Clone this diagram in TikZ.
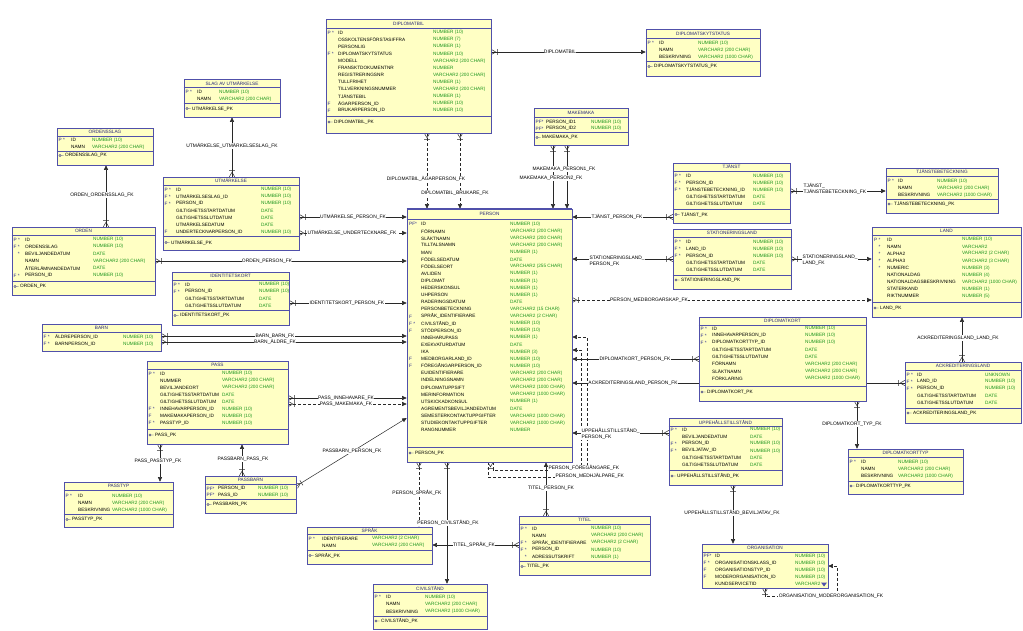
\documentclass[tikz,border=0pt]{standalone}
\usepackage{fontspec}
\setmainfont{Liberation Sans}
\usetikzlibrary{arrows.meta}
\definecolor{tfill}{RGB}{255,255,196}
\definecolor{tborder}{RGB}{80,80,170}
\definecolor{ttitle}{RGB}{40,40,120}
\definecolor{ttype}{RGB}{30,150,30}
\definecolor{tkey}{RGB}{40,40,140}
\definecolor{cline}{RGB}{40,40,40}
\pgfdeclarelayer{bg}
\pgfsetlayers{bg,main}
\tikzset{
 tbox/.style={draw=tborder, fill=tfill, line width=0.6pt, inner sep=0pt, rectangle},
 txt/.style={inner sep=0pt, anchor=west, font=\fontsize{4.7}{5}\selectfont},
 ttl/.style={txt, anchor=center, text=ttitle},
 kcol/.style={txt, text=tkey},
 ncol/.style={txt, text=black},
 tcol/.style={txt, text=ttype},
 sepl/.style={draw=tborder, line width=0.6pt},
 conn/.style={draw=cline, line width=0.5pt},
 opt/.style={conn, dash pattern=on 3pt off 2pt},
 fkarrow/.style={-{Triangle[length=4.5pt,width=4pt]}},
 lbl/.style={fill=white, inner sep=0.4pt, font=\fontsize{4.9}{6}\selectfont, text=black, align=left},
}
\catcode`\_=12
\newcommand\tab[7]{%
 \node[tbox, minimum width={(#4-#2)*1pt}, minimum height={(#5-#3)*1pt}] (#1) at ({(#2+#4)/2},{(#3+#5)/2}) {};
 \node[ttl] (#1-title) at ({(#2+#4)/2},{(#3+#7)/2}) {#6};
 \draw[sepl] (#1.west |- 0,#7) -- (#1.east |- 0,#7);}
\newcommand\rws[7]{%
 \foreach \k/\n/\t [count=\i] in {#7} {
   \node[kcol] (#1-k\i) at (#2,{#5+(\i-1)*#6}) {\k};
   \node[ncol] (#1-n\i) at (#3,{#5+(\i-1)*#6}) {\n};
   \node[tcol] (#1-y\i) at (#4,{#5+(\i-1)*#6}) {\t};
 }}
\newcommand\pkr[5]{%
 \draw[sepl] (#1.west |- 0,#3) -- (#1.east |- 0,#3);
 \draw[draw=ttitle, line width=0.4pt] (#2+3,#4) circle (1.1pt) (#2+4.1,#4) -- (#2+6.5,#4);
 \node[ncol] (#1-pk) at (#2+8,#4) {#5};}
\newcommand\crow[2]{\draw[conn, solid, shift={#1}, rotate=#2] (0,-2.6) -- (4.5,0) -- (0,2.6) (6,-2.8) -- (6,2.8);}
\begin{document}
\begin{tikzpicture}[x=1pt,y=-1pt]
\useasboundingbox (0,0) rectangle (1023,630);
\begin{pgfonlayer}{bg}
\fill[white] (0,0) rectangle (1023,630);
\end{pgfonlayer}

% ---------------- tables ----------------
\tab{slag}{184}{79}{280}{117}{SLAG AV UTMÄRKELSE}{87.5}
\rws{slag}{185.5}{197}{219}{92}{7}{P */ID/NUMBER (10), {}/NAMN/VARCHAR2 (200 CHAR)}
\pkr{slag}{184}{103.5}{108.5}{UTMÄRKELSE_PK}

\tab{ordslag}{57}{128}{153}{165}{ORDENSSLAG}{136}
\rws{ordslag}{58.5}{71}{92}{140}{7}{P */ID/NUMBER (10), {}/NAMN/VARCHAR2 (200 CHAR)}
\pkr{ordslag}{57}{151}{155.5}{ORDENSSLAG_PK}

\tab{utm}{163}{177}{299}{250}{UTMÄRKELSE}{185}
\rws{utm}{164.5}{176}{261}{189.5}{7.1}{P */ID/NUMBER (10), F */UTMÄRKELSESLAG_ID/NUMBER (10), F */PERSON_ID/NUMBER (10), {}/GILTIGHETSSTARTDATUM/DATE, {}/GILTIGHETSSLUTDATUM/DATE, {}/UTMÄRKELSEDATUM/DATE, F/UNDERTECKNARPERSON_ID/NUMBER (10)}
\pkr{utm}{163}{236.5}{242.5}{UTMÄRKELSE_PK}

\tab{dbil}{326}{19}{491}{133}{DIPLOMATBIL}{28}
\rws{dbil}{327.5}{338}{433}{32.5}{7.1}{P */ID/NUMBER (10), {}/OSSKOLTENSFÖRSTASIFFRA/NUMBER (7), {}/PERSONLIG/NUMBER (1), F */DIPLOMATSKYTSTATUS/NUMBER (10), {}/MODELL/VARCHAR2 (200 CHAR), {}/FRANSKTDOKUMENTNR/NUMBER, {}/REGISTRERINGSNR/VARCHAR2 (200 CHAR), {}/TULLFRIHET/NUMBER (1), {}/TILLVERKNINGSNUMMER/VARCHAR2 (200 CHAR), {}/TJÄNSTEBIL/NUMBER (1), F/ÄGARPERSON_ID/NUMBER (10), F/BRUKARPERSON_ID/NUMBER (10)}
\pkr{dbil}{326}{116.5}{122}{DIPLOMATBIL_PK}

\tab{dstat}{646}{29}{760}{76}{DIPLOMATSKYTSTATUS}{38}
\rws{dstat}{647.5}{659}{698}{43}{7}{P */ID/NUMBER (10), {}/NAMN/VARCHAR2 (200 CHAR), {}/BESKRIVNING/VARCHAR2 (1000 CHAR)}
\pkr{dstat}{646}{61.5}{66.5}{DIPLOMATSKYTSTATUS_PK}

\tab{make}{534}{108}{628}{145}{MAKEMAKA}{117}
\rws{make}{535.5}{546}{591}{122}{6.7}{PF*/PERSON_ID1/NUMBER (10), PF*/PERSON_ID2/NUMBER (10)}
\pkr{make}{534}{132.5}{137.5}{MAKEMAKA_PK}

\tab{person}{407}{209}{572}{462}{PERSON}{219}
\rws{person}{409}{421}{510}{224}{7.107}{PF*/ID/NUMBER (10), {}/FÖRNAMN/VARCHAR2 (200 CHAR), {}/SLÄKTNAMN/VARCHAR2 (200 CHAR), {}/TILLTALSNAMN/VARCHAR2 (200 CHAR), {}/MAN/NUMBER (1), {}/FÖDELSEDATUM/DATE, {}/FÖDELSEORT/VARCHAR2 (255 CHAR), {}/AVLIDEN/NUMBER (1), {}/DIPLOMAT/NUMBER (1), {}/HEDERSKONSUL/NUMBER (1), {}/UHPERSON/NUMBER (1), {}/RADERINGSDATUM/DATE, {}/PERSONBETECKNING/VARCHAR2 (15 CHAR), F/SPRÅK_IDENTIFIERARE/VARCHAR2 (2 CHAR), F */CIVILSTÅND_ID/NUMBER (10), F/STÖDPERSON_ID/NUMBER (10), {}/INNEHARUPASS/NUMBER (1), {}/EXEKVATURDATUM/DATE, {}/IKA/NUMBER (3), F/MEDBORGARLAND_ID/NUMBER (10), F/FÖREGÅNGARPERSON_ID/NUMBER (10), {}/EUIDENTIFIERARE/VARCHAR2 (200 CHAR), {}/INDELNINGSNAMN/VARCHAR2 (200 CHAR), {}/DIPLOMATUPPSIFT/VARCHAR2 (1000 CHAR), {}/MERINFORMATION/VARCHAR2 (1000 CHAR), {}/UTSKICKADKONSUL/NUMBER (1), {}/AGREMENTSBEVILJANDEDATUM/DATE, {}/SEMESTERKONTAKTUPPGIFTER/VARCHAR2 (1000 CHAR), {}/STUDIEKONTAKTUPPGIFTER/VARCHAR2 (1000 CHAR), {}/RANGNUMMER/NUMBER}
\pkr{person}{407}{447}{453}{PERSON_PK}
\draw[tborder, line width=1.4pt] (person.north west) -- (person.north east);

\tab{orden}{12}{227}{155}{295}{ORDEN}{235}
\rws{orden}{13.5}{25}{93}{239.5}{7.2}{P */ID/NUMBER (10), F */ORDENSSLAG/NUMBER (10), {\phantom{F} *}/BEVILJANDEDATUM/DATE, {}/NAMN/VARCHAR2 (200 CHAR), {}/ÅTERLÄMNANDEDATUM/DATE, F */PERSON_ID/NUMBER (10)}
\pkr{orden}{12}{281}{286.5}{ORDEN_PK}

\tab{idk}{172}{272}{289}{325}{IDENTITETSKORT}{280}
\rws{idk}{173.5}{185}{259}{284.5}{7}{P */ID/NUMBER (10), F */PERSON_ID/NUMBER (10), {}/GILTIGHETSSTARTDATUM/DATE, {}/GILTIGHETSSLUTDATUM/DATE}
\pkr{idk}{172}{310}{315.5}{IDENTITETSKORT_PK}

\tab{barn}{42}{324}{161}{351}{BARN}{332}
\rws{barn}{43.5}{55}{123}{337}{7}{F */ÄLDREPERSON_ID/NUMBER (10), F */BARNPERSON_ID/NUMBER (10)}

\tab{pass}{147}{361}{288}{444}{PASS}{369}
\rws{pass}{148.5}{160}{222}{373.5}{7.1}{P */ID/NUMBER (10), {}/NUMMER/VARCHAR2 (200 CHAR), {}/BEVILJANDEORT/VARCHAR2 (200 CHAR), {}/GILTIGHETSSTARTDATUM/DATE, {}/GILTIGHETSSLUTDATUM/DATE, F */INNEHAVARPERSON_ID/NUMBER (10), F/MAKEMAKAPERSON_ID/NUMBER (10), F */PASSTYP_ID/NUMBER (10)}
\pkr{pass}{147}{429.5}{435}{PASS_PK}

\tab{passtyp}{64}{482}{173}{527}{PASSTYP}{490}
\rws{passtyp}{65.5}{78}{112}{496}{7}{P */ID/NUMBER (10), {}/NAMN/VARCHAR2 (200 CHAR), {}/BESKRIVNING/VARCHAR2 (1000 CHAR)}
\pkr{passtyp}{64}{514}{519.5}{PASSTYP_PK}

\tab{passbarn}{205}{476}{296}{513}{PASSBARN}{484}
\rws{passbarn}{206.5}{218}{258}{488.5}{6.8}{PF*/PERSON_ID/NUMBER (10), PF*/PASS_ID/NUMBER (10)}
\pkr{passbarn}{205}{499.5}{504.5}{PASSBARN_PK}

\tab{sprak}{307}{527}{432}{564}{SPRÅK}{534}
\rws{sprak}{308.5}{322}{372}{538.5}{7.2}{P */IDENTIFIERARE/VARCHAR2 (2 CHAR), {}/NAMN/VARCHAR2 (200 CHAR)}
\pkr{sprak}{307}{550.5}{555.5}{SPRÅK_PK}

\tab{civ}{373}{584}{487}{629}{CIVILSTÅND}{592}
\rws{civ}{374.5}{386}{425}{597}{7.2}{P */ID/NUMBER (10), {}/NAMN/VARCHAR2 (200 CHAR), {}/BESKRIVNING/VARCHAR2 (1000 CHAR)}
\pkr{civ}{373}{616}{621}{CIVILSTÅND_PK}

\tab{titel}{519}{516}{650}{575}{TITEL}{524}
\rws{titel}{520.5}{532}{591}{528.5}{7.1}{P */ID/NUMBER (10), {}/NAMN/VARCHAR2 (200 CHAR), F */SPRÅK_IDENTIFIERARE/VARCHAR2 (2 CHAR), F */PERSON_ID/NUMBER (10), {\phantom{F} *}/ADRESSUTSKRIFT/NUMBER (1)}
\pkr{titel}{519}{561.5}{566.5}{TITEL_PK}

\tab{tjanst}{673}{163}{790}{223}{TJÄNST}{171}
\rws{tjanst}{674.5}{686}{753}{176}{7}{P */ID/NUMBER (10), F */PERSON_ID/NUMBER (10), F */TJÄNSTEBETECKNING_ID/NUMBER (10), {}/GILTIGHETSSTARTDATUM/DATE, {}/GILTIGHETSSLUTDATUM/DATE}
\pkr{tjanst}{673}{209.5}{214.5}{TJÄNST_PK}

\tab{tbet}{886}{168}{998}{213}{TJÄNSTEBETECKNING}{176}
\rws{tbet}{887.5}{898}{937}{181}{7}{P */ID/NUMBER (10), {}/NAMN/VARCHAR2 (200 CHAR), {}/BESKRIVNING/VARCHAR2 (1000 CHAR)}
\pkr{tbet}{886}{199}{204}{TJÄNSTEBETECKNING_PK}

\tab{stat}{673}{229}{791}{289}{STATIONERINGSLAND}{237}
\rws{stat}{674.5}{686}{753}{242}{7}{P */ID/NUMBER (10), F */LAND_ID/NUMBER (10), F */PERSON_ID/NUMBER (10), {}/GILTIGHETSSTARTDATUM/DATE, {}/GILTIGHETSSLUTDATUM/DATE}
\pkr{stat}{673}{275}{280}{STATIONERINGSLAND_PK}

\tab{land}{872}{227}{1021}{317}{LAND}{235}
\rws{land}{874}{887}{962}{239.5}{7.1}{P */ID/NUMBER (10), {\phantom{P} *}/NAMN/VARCHAR2, {\phantom{P} *}/ALPHA2/VARCHAR2 (2 CHAR), {\phantom{P} *}/ALPHA3/VARCHAR2 (3 CHAR), {\phantom{P} *}/NUMERIC/NUMBER (3), {}/NATIONALDAG/NUMBER (4), {}/NATIONALDAGSBESKRIVNING/VARCHAR2 (1000 CHAR), {}/STATERKAND/NUMBER (1), {}/RIKTNUMMER/NUMBER (5)}
\pkr{land}{872}{302}{308}{LAND_PK}

\tab{dkort}{699}{317}{866}{401}{DIPLOMATKORT}{325}
\rws{dkort}{700.5}{712}{805}{328.5}{7.1}{P */ID/NUMBER (10), F */INNEHAVARPERSON_ID/NUMBER (10), F */DIPLOMATKORTTYP_ID/NUMBER (10), {}/GILTIGHETSSTARTDATUM/DATE, {}/GILTIGHETSSLUTDATUM/DATE, {}/FÖRNAMN/VARCHAR2 (200 CHAR), {}/SLÄKTNAMN/VARCHAR2 (200 CHAR), {}/FÖRKLARING/VARCHAR2 (1000 CHAR)}
\pkr{dkort}{699}{386}{392}{DIPLOMATKORT_PK}

\tab{ackr}{905}{362}{1021}{423}{ACKREDITERINGSLAND}{370}
\rws{ackr}{906.5}{917}{985}{374.5}{7}{P */ID/UNKNOWN, F */LAND_ID/NUMBER (10), F */PERSON_ID/NUMBER (10), {}/GILTIGHETSSTARTDATUM/DATE, {}/GILTIGHETSSLUTDATUM/DATE}
\pkr{ackr}{905}{408}{413}{ACKREDITERINGSLAND_PK}

\tab{dktyp}{848}{449}{963}{494}{DIPLOMATKORTTYP}{457}
\rws{dktyp}{849.5}{861}{898}{462}{7}{P */ID/NUMBER (10), {}/NAMN/VARCHAR2 (200 CHAR), {}/BESKRIVNING/VARCHAR2 (1000 CHAR)}
\pkr{dktyp}{848}{481}{486}{DIPLOMATKORTTYP_PK}

\tab{upp}{669}{418}{782}{485}{UPPEHÅLLSTILLSTÅND}{426}
\rws{upp}{670.5}{682}{750}{429.5}{7.1}{P */ID/NUMBER (10), {}/BEVILJANDEDATUM/DATE, F */PERSON_ID/NUMBER (10), F */BEVILJATAV_ID/NUMBER (10), {}/GILTIGHETSSTARTDATUM/DATE, {}/GILTIGHETSSLUTDATUM/DATE}
\pkr{upp}{669}{470}{476}{UPPEHÅLLSTILLSTÅND_PK}

\tab{org}{702}{544}{828}{588}{ORGANISATION}{552}
\rws{org}{703.5}{715}{795}{556}{7}{PF*/ID/NUMBER (10), F */ORGANISATIONSKLASS_ID/NUMBER (10), F/ORGANISATIONSTYP_ID/NUMBER (10), F/MODERORGANISATION_ID/NUMBER (10), {}/KUNDSERVICETID/VARCHAR2}
\fill[tborder] (821,582.5) -- (827,582.5) -- (824,586.5) -- cycle;

% ---------------- connectors ----------------
\begin{pgfonlayer}{bg}
\draw[conn,fkarrow] (orden.north -| 106,0) -- (ordslag.south -| 106,0);
\crow{(orden.north -| 106,0)}{90}
\draw[conn,fkarrow] (utm.north -| 232,0) -- (slag.south -| 232,0);
\crow{(utm.north -| 232,0)}{90}
\draw[conn,fkarrow] (utm.east |- 0,217) -- (person.west |- 0,217);
\crow{(utm.east |- 0,217)}{0}
\draw[opt,fkarrow] (utm.east |- 0,233) -- (person.west |- 0,233);
\crow{(utm.east |- 0,233)}{0}
\draw[conn,fkarrow] (orden.east |- 0,261) -- (person.west |- 0,261);
\crow{(orden.east |- 0,261)}{0}
\draw[conn,fkarrow] (idk.east |- 0,303) -- (person.west |- 0,303);
\crow{(idk.east |- 0,303)}{0}
\draw[conn,fkarrow] (barn.east |- 0,336) -- (person.west |- 0,336);
\crow{(barn.east |- 0,336)}{0}
\draw[conn,fkarrow] (barn.east |- 0,342) -- (person.west |- 0,342);
\crow{(barn.east |- 0,342)}{0}
\draw[conn,fkarrow] (pass.east |- 0,398) -- (person.west |- 0,398);
\crow{(pass.east |- 0,398)}{0}
\draw[opt,fkarrow] (pass.east |- 0,404) -- (person.west |- 0,404);
\crow{(pass.east |- 0,404)}{0}
\draw[conn,fkarrow] (pass.south -| 160,0) -- (passtyp.north -| 160,0);
\crow{(pass.south -| 160,0)}{270}
\draw[conn,fkarrow] (passbarn.north -| 242,0) -- (pass.south -| 242,0);
\crow{(passbarn.north -| 242,0)}{90}
\draw[conn,fkarrow] (passbarn.east |- 0,486) -- (person.west |- 0,418);
\crow{(passbarn.east |- 0,486)}{31.5}
\draw[opt,fkarrow] (person.south -| 419,0) -- (sprak.north -| 419,0);
\crow{(person.south -| 419,0)}{270}
\draw[conn,fkarrow] (person.south -| 447,0) -- (civ.north -| 447,0);
\crow{(person.south -| 447,0)}{270}
\draw[conn,fkarrow] (titel.west |- 0,545) -- (sprak.east |- 0,545);
\crow{(titel.west |- 0,545)}{180}
\draw[conn,fkarrow] (titel.north -| 546,0) -- (person.south -| 546,0);
\crow{(titel.north -| 546,0)}{90}
\draw[opt,fkarrow] (person.south -| 493,0) -- (493,470) -- (581,470) -- (581,350) -- (person.east |- 0,350);
\draw[opt,fkarrow] (person.south -| 488,0) -- (488,477) -- (587,477) -- (587,337) -- (person.east |- 0,337);
\crow{(person.south -| 490.5,0)}{270}
\draw[conn,fkarrow] (tjanst.west |- 0,217) -- (person.east |- 0,217);
\crow{(tjanst.west |- 0,217)}{180}
\draw[conn,fkarrow] (tjanst.east |- 0,191) -- (tbet.west |- 0,191);
\crow{(tjanst.east |- 0,191)}{0}
\draw[conn,fkarrow] (stat.west |- 0,259) -- (person.east |- 0,259);
\crow{(stat.west |- 0,259)}{180}
\draw[conn,fkarrow] (stat.east |- 0,259) -- (land.west |- 0,259);
\crow{(stat.east |- 0,259)}{0}
\draw[opt,fkarrow] (person.east |- 0,300) -- (land.west |- 0,300);
\crow{(person.east |- 0,300)}{0}
\draw[conn,fkarrow] (dkort.west |- 0,359) -- (person.east |- 0,359);
\crow{(dkort.west |- 0,359)}{180}
\draw[conn,fkarrow] (ackr.west |- 0,383) -- (person.east |- 0,383);
\crow{(ackr.west |- 0,383)}{180}
\draw[conn,fkarrow] (dkort.south -| 857,0) -- (dktyp.north -| 857,0);
\crow{(dkort.south -| 857,0)}{270}
\draw[conn,fkarrow] (ackr.north -| 962,0) -- (land.south -| 962,0);
\crow{(ackr.north -| 962,0)}{90}
\draw[conn,fkarrow] (upp.west |- 0,433) -- (person.east |- 0,433);
\crow{(upp.west |- 0,433)}{180}
\draw[conn,fkarrow] (upp.south -| 733,0) -- (org.north -| 733,0);
\crow{(upp.south -| 733,0)}{270}
\draw[opt,fkarrow] (org.south -| 765,0) -- (765,596) -- (837,596) -- (837,566) -- (org.east |- 0,566);
\crow{(org.south -| 765,0)}{270}
\draw[conn,fkarrow] (dbil.east |- 0,52) -- (dstat.west |- 0,52);
\crow{(dbil.east |- 0,52)}{0}
\draw[opt,fkarrow] (dbil.south -| 427,0) -- (person.north -| 427,0);
\crow{(dbil.south -| 427,0)}{270}
\draw[opt,fkarrow] (dbil.south -| 460,0) -- (person.north -| 460,0);
\crow{(dbil.south -| 460,0)}{270}
\draw[conn,fkarrow] (make.south -| 553,0) -- (person.north -| 553,0);
\crow{(make.south -| 553,0)}{270}
\draw[conn,fkarrow] (make.south -| 567,0) -- (person.north -| 567,0);
\crow{(make.south -| 567,0)}{270}
\end{pgfonlayer}

% ---------------- labels ----------------
\node[lbl] (l1) at (102,195) {ORDEN_ORDENSSLAG_FK};
\node[lbl] (l2) at (232,146) {UTMÄRKELSE_UTMÄRKELSESLAG_FK};
\node[lbl] (l3) at (353,217) {UTMÄRKELSE_PERSON_FK};
\node[lbl] (l4) at (352,233) {UTMÄRKELSE_UNDERTECKNARE_FK};
\node[lbl] (l5) at (267,261) {ORDEN_PERSON_FK};
\node[lbl] (l6) at (347,303) {IDENTITETSKORT_PERSON_FK};
\node[lbl] (l7) at (275,336) {BARN_BARN_FK};
\node[lbl] (l8) at (275,342) {BARN_ÄLDRE_FK};
\node[lbl] (l9) at (346,398) {PASS_INNEHAVARE_FK};
\node[lbl] (l10) at (346,404) {PASS_MAKEMAKA_FK};
\node[lbl] (l11) at (158,461) {PASS_PASSTYP_FK};
\node[lbl] (l12) at (243,459) {PASSBARN_PASS_FK};
\node[lbl] (l13) at (352,451) {PASSBARN_PERSON_FK};
\node[lbl] (l14) at (417,493) {PERSON_SPRÅK_FK};
\node[lbl] (l15) at (448,523) {PERSON_CIVILSTÅND_FK};
\node[lbl] (l16) at (474,545) {TITEL_SPRÅK_FK};
\node[lbl] (l17) at (551,488) {TITEL_PERSON_FK};
\node[lbl, anchor=west] (l18) at (548,468) {PERSON_FÖREGÅNGARE_FK};
\node[lbl, anchor=west] (l19) at (555,476) {PERSON_MEDHJÄLPARE_FK};
\node[lbl] (l20) at (617,217) {TJÄNST_PERSON_FK};
\node[lbl, anchor=west] (l21) at (803,189) {TJÄNST_\\TJÄNSTEBETECKNING_FK};
\node[lbl, anchor=west] (l22) at (589,261.5) {STATIONERINGSLAND_\\PERSON_FK};
\node[lbl, anchor=west] (l23) at (802,260.5) {STATIONERINGSLAND_\\LAND_FK};
\node[lbl] (l24) at (649,300) {PERSON_MEDBORGARSKAP_FK};
\node[lbl] (l25) at (635,359) {DIPLOMATKORT_PERSON_FK};
\node[lbl] (l26) at (633,383) {ACKREDITERINGSLAND_PERSON_FK};
\node[lbl] (l27) at (852,424) {DIPLOMATKORT_TYP_FK};
\node[lbl] (l28) at (958,338) {ACKREDITERINGSLAND_LAND_FK};
\node[lbl, anchor=west] (l29) at (581,433.5) {UPPEHÅLLSTILLSTÅND_\\PERSON_FK};
\node[lbl] (l30) at (732,513) {UPPEHÅLLSTILLSTÅND_BEVILJATAV_FK};
\node[lbl] (l31) at (831,596) {ORGANISATION_MODERORGANISATION_FK};
\node[lbl] (l32) at (560,52) {DIPLOMATBIL};
\node[lbl] (l33) at (426,179) {DIPLOMATBIL_ÄGARPERSON_FK};
\node[lbl] (l34) at (455,193) {DIPLOMATBIL_BRUKARE_FK};
\node[lbl] (l35) at (564,169) {MAKEMAKA_PERSON1_FK};
\node[lbl] (l36) at (551,178) {MAKEMAKA_PERSON2_FK};
\end{tikzpicture}
\end{document}
